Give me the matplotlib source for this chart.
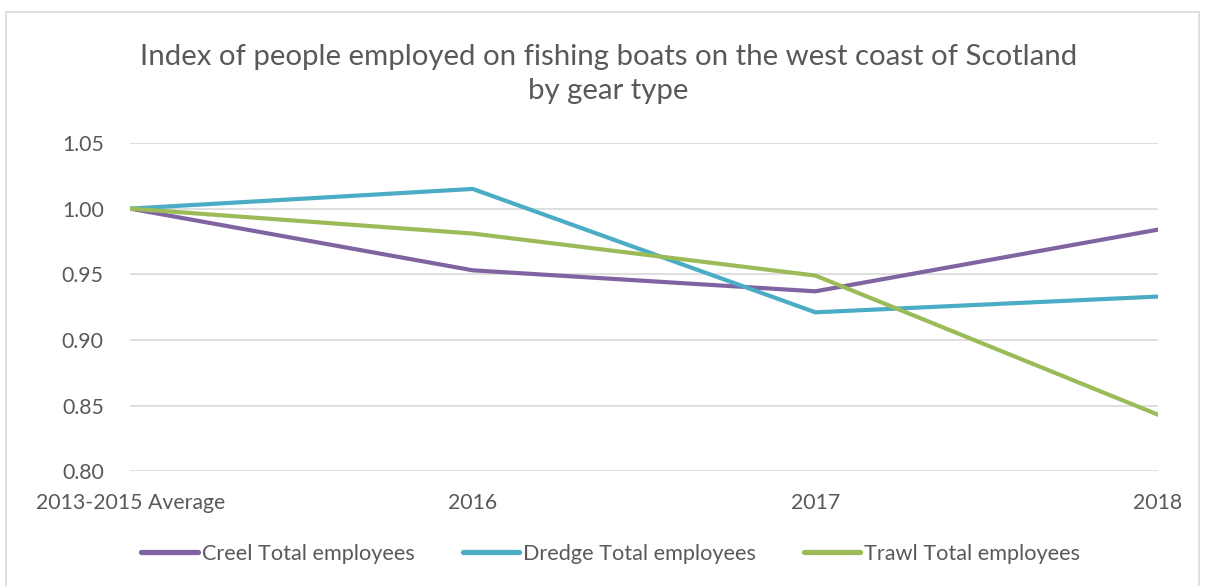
import matplotlib.pyplot as plt
from matplotlib.patches import Rectangle

plt.rcParams['font.family'] = ['Lato', 'DejaVu Sans']

# %% data ---------------------------------------------------------------------
categories = ['2013-2015 Average', '2016', '2017', '2018']
creel = [1.000, 0.953, 0.937, 0.984]
dredge = [1.000, 1.015, 0.921, 0.933]
trawl = [1.000, 0.981, 0.949, 0.843]

series = [('Creel Total employees', creel, '#8064A2'),
          ('Dredge Total employees', dredge, '#4BACC6'),
          ('Trawl Total employees', trawl, '#9BBB59')]

text_color = '#595959'

# %% plot ---------------------------------------------------------------------
fig = plt.figure(figsize=(12.05, 5.86), dpi=100)
ax = fig.add_axes([0.108, 0.196, 0.853, 0.560])

x = list(range(len(categories)))
for label, values, color in series:
    ax.plot(x, values, color=color, lw=3.0, label=label,
            solid_capstyle='round', solid_joinstyle='round')

ax.set_xlim(0, len(categories) - 1)
ax.set_ylim(0.80, 1.05)
ax.set_yticks([0.80, 0.85, 0.90, 0.95, 1.00, 1.05])
ax.set_yticklabels([f'{v:.2f}' for v in ax.get_yticks()])
ax.set_xticks(x)
ax.set_xticklabels(categories)
ax.grid(axis='y', color='#D9D9D9', lw=1.2)
ax.set_axisbelow(True)
for s in ax.spines.values():
    s.set_visible(False)
ax.tick_params(length=0, colors=text_color, labelsize=15.3)
ax.tick_params(axis='x', pad=16)
ax.tick_params(axis='y', pad=19)

fig.text(0.505, 0.874, 'Index of people employed on fishing boats on the west coast of Scotland\nby gear type',
         ha='center', va='center', fontsize=21.2, color=text_color, linespacing=1.4)

leg = fig.legend(loc='center', bbox_to_anchor=(0.507, 0.055), ncol=3, frameon=False,
                 fontsize=15.6, handlelength=2.6, handletextpad=0.2, columnspacing=2.2)
for t in leg.get_texts():
    t.set_color(text_color)
for h in leg.get_lines():
    h.set_linewidth(3.8)

# chart border
fig.patches.append(Rectangle((0.005, -0.02), 0.99, 1.0, transform=fig.transFigure,
                             fill=False, edgecolor='#D9D9D9', lw=1.2))

fig.savefig('out.png', dpi=100)
